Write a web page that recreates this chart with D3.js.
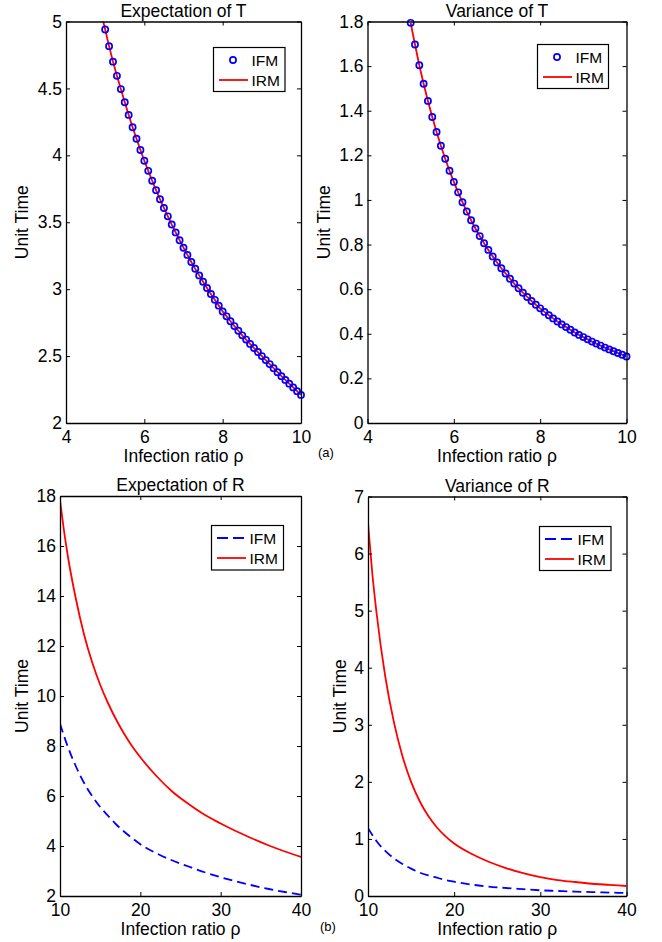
<!DOCTYPE html>
<html>
<head>
<meta charset="utf-8">
<script src="https://cdn.jsdelivr.net/npm/d3@7"></script>
<style>
  body { margin: 0; background: #fff; }
  text { font-family: "Liberation Sans", Arial, Helvetica, sans-serif; fill: #000; }
</style>
</head>
<body>
<script>
// ---- data ----
var rhoT = [5.0, 5.1, 5.2, 5.3, 5.4, 5.5, 5.6, 5.7, 5.8, 5.9,
            6.0, 6.1, 6.2, 6.3, 6.4, 6.5, 6.6, 6.7, 6.8, 6.9,
            7.0, 7.1, 7.2, 7.3, 7.4, 7.5, 7.6, 7.7, 7.8, 7.9,
            8.0, 8.1, 8.2, 8.3, 8.4, 8.5, 8.6, 8.7, 8.8, 8.9,
            9.0, 9.1, 9.2, 9.3, 9.4, 9.5, 9.6, 9.7, 9.8, 9.9, 10.0];

// expectation of T (IFM markers, IRM line)
var eT = [4.94, 4.816, 4.70, 4.594, 4.495, 4.397, 4.302, 4.21, 4.124, 4.04,
          3.96, 3.884, 3.81, 3.74, 3.672, 3.607, 3.544, 3.483, 3.424, 3.366,
          3.31, 3.256, 3.203, 3.152, 3.103, 3.055, 3.009, 2.964, 2.92, 2.877,
          2.834, 2.797, 2.76, 2.724, 2.689, 2.655, 2.623, 2.591, 2.56, 2.53,
          2.50, 2.47, 2.44, 2.41, 2.38, 2.35, 2.322, 2.294, 2.266, 2.238, 2.21];
// IRM line starts a bit left of the first marker (clipped at the top)
var rhoTline = [4.9].concat(rhoT);
var eTline = [5.065].concat(eT);

// variance of T
var vT = [1.794, 1.697, 1.604, 1.521, 1.444, 1.372, 1.305, 1.243, 1.185, 1.131,
          1.081, 1.034, 0.99, 0.948, 0.909, 0.872, 0.838, 0.806, 0.776, 0.747,
          0.72, 0.694, 0.67, 0.647, 0.625, 0.604, 0.584, 0.565, 0.547, 0.53,
          0.514, 0.498, 0.483, 0.469, 0.455, 0.442, 0.43, 0.418, 0.406, 0.395,
          0.385, 0.375, 0.365, 0.356, 0.347, 0.338, 0.33, 0.322, 0.314, 0.306, 0.298];

var rhoR = [10, 10.5, 11, 12, 13, 14, 15, 16, 17, 18, 19, 20, 22, 24, 26, 28, 30, 32, 34, 36, 38, 40];
var eRifm = [8.89, 8.4, 7.95, 7.17, 6.52, 6.0, 5.56, 5.2, 4.86, 4.57, 4.31, 4.07, 3.71, 3.42, 3.18, 2.95, 2.75, 2.58, 2.42, 2.28, 2.16, 2.05];
var eRirm = [17.83, 16.6, 15.55, 13.85, 12.45, 11.35, 10.45, 9.7, 9.05, 8.48, 7.98, 7.55, 6.8, 6.17, 5.68, 5.25, 4.9, 4.58, 4.29, 4.02, 3.78, 3.56];
var vRifm = [1.19, 1.07, 0.96, 0.79, 0.66, 0.56, 0.48, 0.41, 0.36, 0.32, 0.28, 0.25, 0.2, 0.165, 0.14, 0.12, 0.10, 0.088, 0.077, 0.068, 0.06, 0.053];
var vRirm = [6.53, 5.65, 4.95, 3.85, 3.05, 2.45, 2.0, 1.66, 1.4, 1.2, 1.045, 0.92, 0.74, 0.6, 0.49, 0.4, 0.33, 0.28, 0.245, 0.215, 0.195, 0.175];

// tick values
var xTicksT = [4, 6, 8, 10];
var xTicksR = [10, 20, 30, 40];
var yTicksET = [2, 2.5, 3, 3.5, 4, 4.5, 5];
var yTicksVT = [0, 0.2, 0.4, 0.6, 0.8, 1, 1.2, 1.4, 1.6, 1.8];
var yTicksER = [2, 4, 6, 8, 10, 12, 14, 16, 18];
var yTicksVR = [0, 1, 2, 3, 4, 5, 6, 7];

var titles = ["Expectation of T", "Variance of T", "Expectation of R", "Variance of R"];
var legendNames = ["IFM", "IRM"];

var BLUE = "#0000ff", RED = "#ff0000";
var FS = "17.5px";

var svg = d3.select("body").append("svg")
  .attr("width", 662)
  .attr("height", 942);

function zip(xs, ys) {
  return xs.map(function(d, i) { return [d, ys[i]]; });
}

var panels = [
  { l: 66, r: 301, t: 21.5, b: 423, xd: [4, 10], yd: [2, 5], xt: xTicksT, yt: yTicksET,
    title: titles[0], titleY: 17, ylabX: 28,
    leg: { x: 213.5, y: 47.5, w: 71.5, h: 44 },
    ifm: { kind: "marker", pts: zip(rhoT, eT) },
    irm: zip(rhoTline, eTline), smooth: false },
  { l: 367.5, r: 626.5, t: 21.5, b: 423, xd: [4, 10], yd: [0, 1.8], xt: xTicksT, yt: yTicksVT,
    title: titles[1], titleY: 17, ylabX: 330,
    leg: { x: 537.5, y: 44.5, w: 71, h: 44 },
    ifm: { kind: "marker", pts: zip(rhoT, vT) },
    irm: zip(rhoT, vT), smooth: false },
  { l: 60, r: 301, t: 496, b: 896, xd: [10, 40], yd: [2, 18], xt: xTicksR, yt: yTicksER,
    title: titles[2], titleY: 491, ylabX: 28,
    leg: { x: 211.5, y: 525.5, w: 72, h: 44.5 },
    ifm: { kind: "dash", pts: zip(rhoR, eRifm) },
    irm: zip(rhoR, eRirm), smooth: true },
  { l: 368, r: 626.5, t: 496.5, b: 896, xd: [10, 40], yd: [0, 7], xt: xTicksR, yt: yTicksVR,
    title: titles[3], titleY: 491.5, ylabX: 346,
    leg: { x: 539.5, y: 526.5, w: 71.5, h: 44 },
    ifm: { kind: "dash", pts: zip(rhoR, vRifm) },
    irm: zip(rhoR, vRirm), smooth: true }
];

panels.forEach(function(p, i) {
  var x = d3.scaleLinear().domain(p.xd).range([p.l, p.r]);
  var y = d3.scaleLinear().domain(p.yd).range([p.b, p.t]);
  var g = svg.append("g");

  var clipId = "clip" + i;
  svg.append("clipPath").attr("id", clipId)
    .append("rect")
    .attr("x", p.l).attr("y", p.t)
    .attr("width", p.r - p.l).attr("height", p.b - p.t);

  var line = d3.line()
    .x(function(d) { return x(d[0]); })
    .y(function(d) { return y(d[1]); })
    .curve(p.smooth ? d3.curveMonotoneX : d3.curveLinear);

  var plot = g.append("g").attr("clip-path", "url(#" + clipId + ")");

  if (p.ifm.kind === "dash") {
    plot.append("path")
      .attr("d", line(p.ifm.pts))
      .attr("fill", "none")
      .attr("stroke", BLUE)
      .attr("stroke-width", 1.8)
      .attr("stroke-dasharray", "9,5");
  }
  if (p.ifm.kind === "marker") {
    g.selectAll("circle.m")
      .data(p.ifm.pts)
      .enter()
      .append("circle")
      .attr("class", "m")
      .attr("cx", function(d) { return x(d[0]); })
      .attr("cy", function(d) { return y(d[1]); })
      .attr("r", 3.1)
      .attr("fill", "none")
      .attr("stroke", BLUE)
      .attr("stroke-width", 1.7);
  }
  // IRM line on top so it runs through the markers
  plot.append("path")
    .attr("d", line(p.irm))
    .attr("fill", "none")
    .attr("stroke", RED)
    .attr("stroke-width", 1.8);

  // axes with inward ticks on all four sides
  var fmt = function(d) { return String(+d.toFixed(2)); };
  var axB = g.append("g").attr("transform", "translate(0," + p.b + ")")
    .call(d3.axisBottom(x).tickValues(p.xt).tickFormat(fmt).tickSizeInner(-4).tickSizeOuter(0).tickPadding(8));
  var axL = g.append("g").attr("transform", "translate(" + p.l + ",0)")
    .call(d3.axisLeft(y).tickValues(p.yt).tickFormat(fmt).tickSizeInner(-4).tickSizeOuter(0).tickPadding(4));
  var axT = g.append("g").attr("transform", "translate(0," + p.t + ")")
    .call(d3.axisTop(x).tickValues(p.xt).tickFormat("").tickSizeInner(-4).tickSizeOuter(0));
  var axR = g.append("g").attr("transform", "translate(" + p.r + ",0)")
    .call(d3.axisRight(y).tickValues(p.yt).tickFormat("").tickSizeInner(-4).tickSizeOuter(0));

  [axB, axL, axT, axR].forEach(function(a) {
    a.select(".domain").attr("stroke", "#000").attr("stroke-width", 1.3);
    a.selectAll(".tick line").attr("stroke", "#000").attr("stroke-width", 1);
    a.selectAll("text")
      .style("font-family", "'Liberation Sans', Arial, sans-serif")
      .style("font-size", FS)
      .attr("fill", "#000");
  });

  // title and axis labels
  g.append("text")
    .attr("x", (p.l + p.r) / 2)
    .attr("y", p.titleY)
    .attr("text-anchor", "middle")
    .style("font-size", FS)
    .text(p.title);

  g.append("text")
    .attr("x", (p.l + p.r) / 2)
    .attr("y", p.b + 38.5)
    .attr("text-anchor", "middle")
    .style("font-size", FS)
    .text("Infection ratio \u03c1");

  g.append("text")
    .attr("transform", "translate(" + p.ylabX + "," + ((p.t + p.b) / 2) + ") rotate(-90)")
    .attr("text-anchor", "middle")
    .style("font-size", FS)
    .text("Unit Time");

  // legend
  var lg = g.append("g").attr("transform", "translate(" + p.leg.x + "," + p.leg.y + ")");
  lg.append("rect")
    .attr("width", p.leg.w).attr("height", p.leg.h)
    .attr("fill", "#fff").attr("stroke", "#000").attr("stroke-width", 1.2);
  var rows = [12.5, 32.5];
  if (p.ifm.kind === "marker") {
    lg.append("circle")
      .attr("cx", 19.5).attr("cy", rows[0]).attr("r", 3.1)
      .attr("fill", "none").attr("stroke", BLUE).attr("stroke-width", 1.7);
  } else {
    lg.append("line")
      .attr("x1", 5.5).attr("x2", 33.5).attr("y1", rows[0]).attr("y2", rows[0])
      .attr("stroke", BLUE).attr("stroke-width", 1.8).attr("stroke-dasharray", "11,5");
  }
  lg.append("line")
    .attr("x1", 5.5).attr("x2", 34.5).attr("y1", rows[1]).attr("y2", rows[1])
    .attr("stroke", RED).attr("stroke-width", 1.8);
  lg.selectAll("text.lt")
    .data(legendNames)
    .enter()
    .append("text")
    .attr("class", "lt")
    .attr("x", 38)
    .attr("y", function(d, k) { return rows[k] + 5.5; })
    .style("font-size", "15.5px")
    .text(function(d) { return d; });
});

// sub-figure tags
svg.append("text").attr("x", 318).attr("y", 456.5).style("font-size", "13px").text("(a)");
svg.append("text").attr("x", 320).attr("y", 931).style("font-size", "13px").text("(b)");
</script>
</body>
</html>
